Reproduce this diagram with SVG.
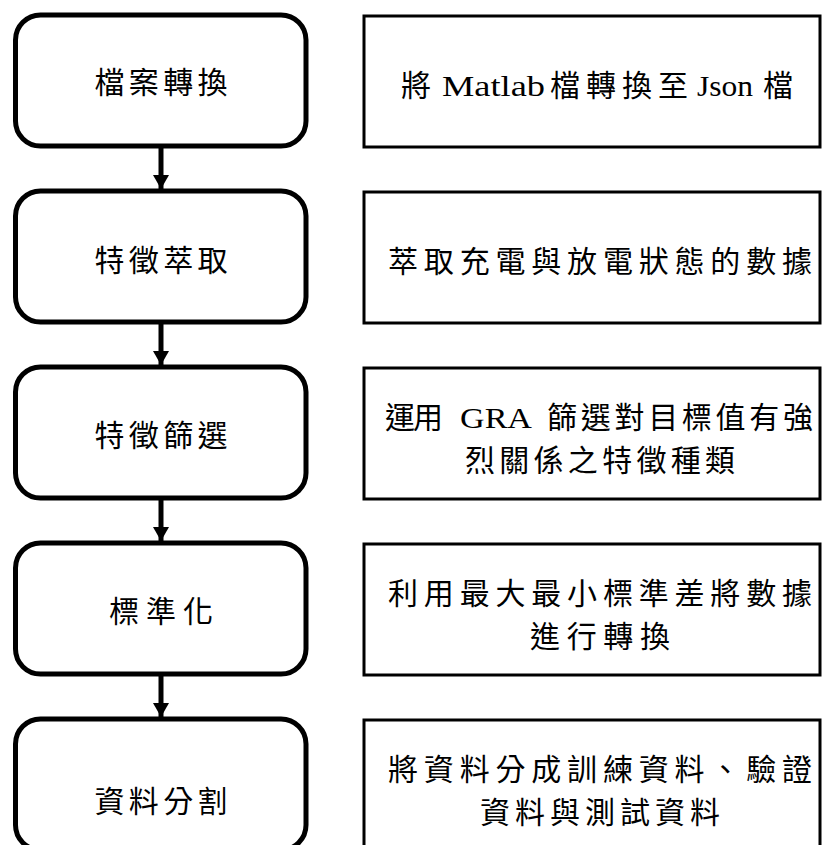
<svg xmlns="http://www.w3.org/2000/svg" width="822" height="845" viewBox="0 0 822 845">
<style>
.step{fill:#fff;stroke:#000;stroke-width:5}
.desc{fill:#fff;stroke:#000;stroke-width:3}
text{font-family:"Liberation Serif","Noto Sans CJK TC",serif;font-size:30px;fill:#000;text-anchor:middle;dominant-baseline:central}
text.s{text-anchor:start}
.conn line{stroke:#000;stroke-width:5}
</style>
<defs>
<marker id="ah" markerWidth="16" markerHeight="14" refX="8" refY="14" orient="0" markerUnits="userSpaceOnUse">
<path d="M0,0 L16,0 L8,14 Z" fill="#000"/>
</marker>
</defs>
<rect width="822" height="845" fill="#fff"/>
<g id="n1"><rect class="step" x="15.5" y="15" width="290.5" height="131" rx="25"/><text x="161" y="82" textLength="133" lengthAdjust="spacing">檔案轉換</text></g>
<g id="d1"><rect class="desc" x="364" y="16" width="456" height="131"/>
<text class="s" x="401" y="85" textLength="27" lengthAdjust="spacing">將</text>
<text class="s" x="442" y="85" textLength="103" lengthAdjust="spacingAndGlyphs">Matlab</text>
<text class="s" x="550" y="85" textLength="138" lengthAdjust="spacing">檔轉換至</text>
<text class="s" x="697" y="85" textLength="56" lengthAdjust="spacingAndGlyphs">Json</text>
<text class="s" x="763" y="85" textLength="30" lengthAdjust="spacing">檔</text>
</g>
<g id="n2"><rect class="step" x="15.5" y="191" width="290.5" height="131" rx="25"/><text x="161" y="260" textLength="133" lengthAdjust="spacing">特徵萃取</text></g>
<g id="d2"><rect class="desc" x="364" y="192" width="456" height="131"/><text x="600" y="261" textLength="424" lengthAdjust="spacing">萃取充電與放電狀態的數據</text></g>
<g id="n3"><rect class="step" x="15.5" y="367" width="290.5" height="131" rx="25"/><text x="161" y="435" textLength="133" lengthAdjust="spacing">特徵篩選</text></g>
<g id="d3"><rect class="desc" x="364" y="368" width="456" height="131"/>
<text class="s" x="385" y="417" textLength="58" lengthAdjust="spacing">運用</text>
<text class="s" x="460" y="417" textLength="72" lengthAdjust="spacingAndGlyphs">GRA</text>
<text class="s" x="547" y="417" textLength="266" lengthAdjust="spacing">篩選對目標值有強</text>
<text x="600" y="460" textLength="270" lengthAdjust="spacing">烈關係之特徵種類</text></g>
<g id="n4"><rect class="step" x="15.5" y="543" width="290.5" height="131" rx="25"/><text x="161" y="611" textLength="104" lengthAdjust="spacing">標準化</text></g>
<g id="d4"><rect class="desc" x="364" y="544" width="456" height="131"/><text x="600" y="593" textLength="424" lengthAdjust="spacing">利用最大最小標準差將數據</text><text x="600" y="636" textLength="140" lengthAdjust="spacing">進行轉換</text></g>
<g id="n5"><rect class="step" x="15.5" y="719" width="290.5" height="131" rx="25"/><text x="161" y="801" textLength="133" lengthAdjust="spacing">資料分割</text></g>
<g id="d5"><rect class="desc" x="364" y="720" width="456" height="131"/><text x="600" y="769" textLength="424" lengthAdjust="spacing">將資料分成訓練資料、驗證</text><text x="600" y="812" textLength="240" lengthAdjust="spacing">資料與測試資料</text></g>
<g class="conn">
<line x1="161" y1="148" x2="161" y2="189" marker-end="url(#ah)"/>
<line x1="161" y1="324" x2="161" y2="365" marker-end="url(#ah)"/>
<line x1="161" y1="500" x2="161" y2="541" marker-end="url(#ah)"/>
<line x1="161" y1="676" x2="161" y2="717" marker-end="url(#ah)"/>
</g>
</svg>
